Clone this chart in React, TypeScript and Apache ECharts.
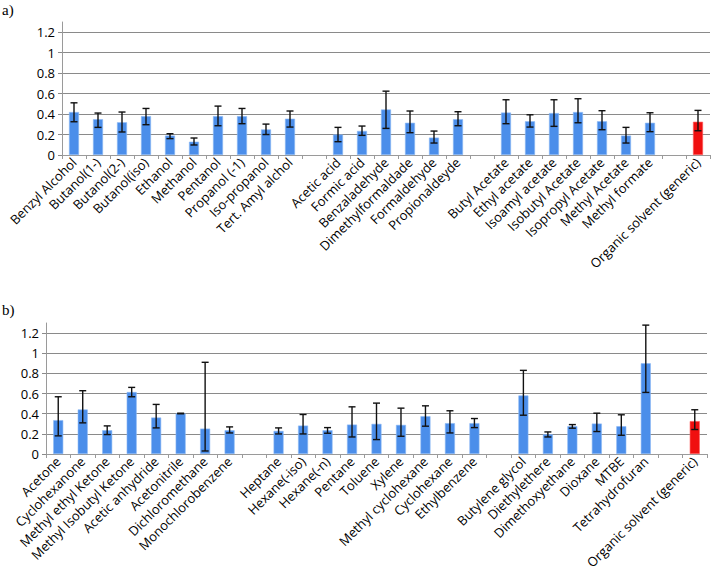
import React, { useEffect, useRef } from "react";
import * as echarts from "echarts";

const catsA = [
  "Benzyl Alcohol", "Butanol(1-)", "Butanol(2-)", "Butanol(iso)", "Ethanol", "Methanol", "Pentanol",
  "Propanol (-1)", "Iso-propanol", "Tert. Amyl alchol", "",
  "Acetic acid", "Formic acid", "Benzaladehyde", "Dimethylformaldade", "Formaldehyde", "Propionaldeyde", " ",
  "Butyl Acetate", "Ethyl acetate", "Isoamyl acetate", "Isobutyl Acetate", "Isopropyl Acetate", "Methyl Acetate",
  "Methyl formate", "  ", "Organic solvent (generic)",
];
const valA = [0.42, 0.35, 0.32, 0.38, 0.19, 0.13, 0.38, 0.38, 0.25, 0.355, null,
  0.2, 0.235, 0.445, 0.315, 0.17, 0.35, null,
  0.415, 0.33, 0.41, 0.42, 0.33, 0.19, 0.315, null, 0.325];
const hiA = [0.51, 0.41, 0.42, 0.455, 0.208, 0.166, 0.478, 0.455, 0.302, 0.43, null,
  0.27, 0.283, 0.624, 0.43, 0.234, 0.423, null,
  0.54, 0.393, 0.54, 0.55, 0.433, 0.27, 0.413, null, 0.436];
const loA = [0.325, 0.27, 0.225, 0.296, 0.16, 0.098, 0.286, 0.306, 0.2, 0.273, null,
  0.13, 0.192, 0.26, 0.218, 0.117, 0.286, null,
  0.306, 0.273, 0.28, 0.315, 0.247, 0.117, 0.228, null, 0.237];

const catsB = [
  "Acetone", "Cyclohexanone", "Methyl ethyl Ketone", "Methyl Isobutyl Ketone", "Acetic anhydride", "Acetonitrile",
  "Dichloromethane", "Monochlorobenzene", "",
  "Heptane", "Hexane(-iso)", "Hexane(-n)", "Pentane", "Toluene", "Xylene", "Methyl cyclohexane", "Cyclohexane",
  "Ethylbenzene", " ",
  "Butylene glycol", "Diethylethere", "Dimethoxyethane", "Dioxane", "MTBE", "Tetrahydrofuran", "  ",
  "Organic solvent (generic)",
];
const valB = [0.336, 0.442, 0.236, 0.615, 0.362, 0.402, 0.252, 0.236, null,
  0.229, 0.282, 0.236, 0.292, 0.299, 0.289, 0.375, 0.306, 0.306, null,
  0.581, 0.196, 0.276, 0.302, 0.276, 0.9, null, 0.326];
const hiB = [0.568, 0.628, 0.279, 0.661, 0.492, 0.405, 0.91, 0.269, null,
  0.259, 0.392, 0.262, 0.468, 0.505, 0.455, 0.478, 0.429, 0.352, null,
  0.83, 0.219, 0.292, 0.405, 0.389, 1.279, null, 0.439];
const loB = [0.18, 0.309, 0.193, 0.568, 0.259, 0.399, 0.03, 0.209, null,
  0.199, 0.199, 0.206, 0.169, 0.143, 0.176, 0.276, 0.209, 0.262, null,
  0.385, 0.169, 0.256, 0.223, 0.186, 0.611, null, 0.243];

const yTicks = [0, 0.2, 0.4, 0.6, 0.8, 1, 1.2];

const BLUE = "#4b8eea";
const RED = "#f01010";
const FONT = "Open Sans";

function barData(vals: (number | null)[], cats: string[]) {
  return vals.map((v, i) => {
    if (v === null) return "-";
    const isRed = cats[i].startsWith("Organic");
    return {
      value: v,
      itemStyle: { color: isRed ? RED : BLUE, borderColor: isRed ? "#ff5a5a" : "#8cb8f5", borderWidth: 0.6 },
    };
  });
}

function errData(lo: (number | null)[], hi: (number | null)[]) {
  const out: any[] = [];
  lo.forEach((l, i) => {
    if (l !== null && hi[i] !== null) out.push([i, l, hi[i]]);
  });
  return out;
}

const renderErr = (params: any, api: any) => {
  const idx = api.value(0);
  const lo = api.coord([idx, api.value(1)]);
  const hi = api.coord([idx, api.value(2)]);
  const hw = 3.5;
  const st = { stroke: "#111", lineWidth: 1.4 };
  return {
    type: "group",
    children: [
      { type: "line", shape: { x1: hi[0], y1: hi[1], x2: lo[0], y2: lo[1] }, style: st },
      { type: "line", shape: { x1: hi[0] - hw, y1: hi[1], x2: hi[0] + hw, y2: hi[1] }, style: st },
      { type: "line", shape: { x1: lo[0] - hw, y1: lo[1], x2: lo[0] + hw, y2: lo[1] }, style: st },
    ],
  };
};

export default function App() {
  const ref = useRef<HTMLDivElement>(null);
  useEffect(() => {
    document.body.style.margin = "0";
    const chart = echarts.init(ref.current!, undefined, { renderer: "svg" });
    const xAxisBase = (cats: string[], gi: number) => ({
      type: "category",
      gridIndex: gi,
      data: cats,
      axisLine: { lineStyle: { color: "#9a9a9a", width: 1 } },
      axisTick: { show: true, alignWithLabel: false, interval: 0, length: 4, lineStyle: { color: "#9a9a9a" } },
      axisLabel: { interval: 0, rotate: 45, margin: 5, color: "#000", fontSize: 13, fontFamily: FONT },
    });
    const yAxisBase = (gi: number) => ({
      type: "value",
      gridIndex: gi,
      min: 0,
      max: 1.3,
      interval: 0.2,
      axisLine: { show: true, lineStyle: { color: "#9a9a9a", width: 1 } },
      axisTick: { show: true, length: 4, lineStyle: { color: "#8a8a8a" } },
      axisLabel: {
        color: "#000",
        fontSize: 13,
        fontFamily: FONT,
        margin: 7,
        showMaxLabel: false,
        formatter: (v: number) => (yTicks.some((t) => Math.abs(t - v) < 1e-6) ? String(Math.round(v * 10) / 10) : ""),
      },
      splitLine: { show: true, showMaxLine: false, lineStyle: { color: "#8a8a8a", width: 1 } },
    });
    chart.setOption({
      animation: false,
      backgroundColor: "#fff",
      textStyle: { fontFamily: FONT },
      grid: [
        { left: 62, right: 3, top: 22, height: 133 },
        { left: 46, right: 6, top: 323, height: 131 },
      ],
      xAxis: [xAxisBase(catsA, 0), xAxisBase(catsB, 1)],
      yAxis: [yAxisBase(0), yAxisBase(1)],
      graphic: [
        { type: "text", left: 2, top: 2, style: { text: "a)", font: "15px 'Liberation Serif'", fill: "#000" } },
        { type: "text", left: 2, top: 302, style: { text: "b)", font: "15px 'Liberation Serif'", fill: "#000" } },
      ],
      series: [
        { type: "bar", xAxisIndex: 0, yAxisIndex: 0, data: barData(valA, catsA), barWidth: 10 },
        {
          type: "custom", xAxisIndex: 0, yAxisIndex: 0, data: errData(loA, hiA), renderItem: renderErr,
          encode: { x: 0, y: [1, 2] }, z: 5,
        },
        { type: "bar", xAxisIndex: 1, yAxisIndex: 1, data: barData(valB, catsB), barWidth: 10 },
        {
          type: "custom", xAxisIndex: 1, yAxisIndex: 1, data: errData(loB, hiB), renderItem: renderErr,
          encode: { x: 0, y: [1, 2] }, z: 5,
        },
      ],
    });
    return () => chart.dispose();
  }, []);
  return <div ref={ref} style={{ width: 713, height: 583 }} />;
}
